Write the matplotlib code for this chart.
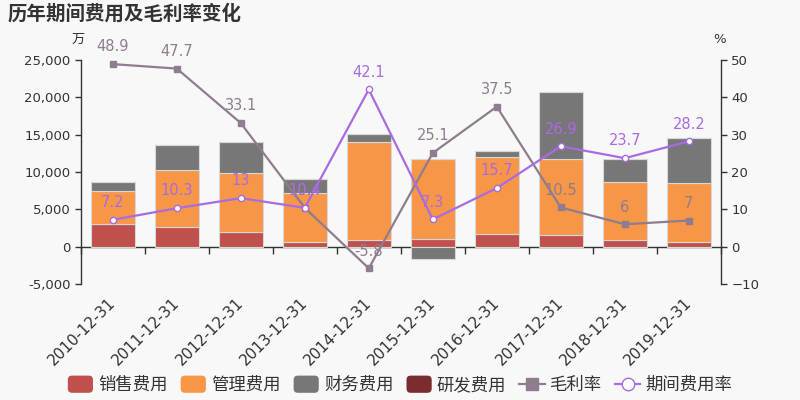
import matplotlib
matplotlib.use("Agg")
import matplotlib.pyplot as plt
import numpy as np
from matplotlib.patches import Patch, FancyBboxPatch
from matplotlib.lines import Line2D
from matplotlib.legend_handler import HandlerPatch
from matplotlib.ticker import FuncFormatter, FixedLocator

plt.rcParams['font.family'] = ['DejaVu Sans', 'Noto Sans CJK SC']

categories = ['2010-12-31', '2011-12-31', '2012-12-31', '2013-12-31', '2014-12-31',
              '2015-12-31', '2016-12-31', '2017-12-31', '2018-12-31', '2019-12-31']
sales_exp = [3000, 2700, 1900, 620, 880, 1070, 1740, 1550, 880, 620]
admin_exp = [4400, 7580, 7930, 6630, 13090, 10720, 10270, 10240, 7800, 7970]
finance_exp = [1200, 3340, 4140, 1870, 1120, -1600, 810, 8940, 3110, 5960]
rd_exp = [0, 0, 0, 0, 0, 0, 0, 0, 0, 0]
gross_margin = [48.9, 47.7, 33.1, 10.4, -5.8, 25.1, 37.5, 10.5, 6, 7]
period_rate = [7.2, 10.3, 13, 10.4, 42.1, 7.3, 15.7, 26.9, 23.7, 28.2]

series_names = ['销售费用', '管理费用', '财务费用', '研发费用']
series_colors = ['#c0504d', '#f79646', '#777777', '#7b2c2c']
gm_color = '#8e7d8e'
pr_color = '#a86be3'
bg = '#f8f8f8'
txt = '#333333'

fig = plt.figure(figsize=(8, 4), dpi=100, facecolor=bg)
ax = fig.add_axes([0.101, 0.29, 0.80, 0.56], facecolor=bg)
ax2 = ax.twinx()

x = np.arange(len(categories))
pos_base = np.zeros(len(x))
neg_base = np.zeros(len(x))
for vals, name, col in zip([sales_exp, admin_exp, finance_exp, rd_exp], series_names, series_colors):
    v = np.array(vals, dtype=float)
    bottom = np.where(v >= 0, pos_base, neg_base)
    ax.bar(x, v, width=0.69, bottom=bottom, color=col, edgecolor='#d8d8d8', linewidth=0.8, zorder=2)
    pos_base = pos_base + np.where(v >= 0, v, 0)
    neg_base = neg_base + np.where(v < 0, v, 0)

ax.set_xlim(-0.5, len(x) - 0.5)
ax.set_ylim(-5000, 25000)
ax2.set_ylim(-10, 50)
ax.set_yticks(np.arange(-5000, 25001, 5000))
ax2.set_yticks(np.arange(-10, 51, 10))
ax.yaxis.set_major_formatter(FuncFormatter(lambda v, p: f'{int(v):,}'))

ax2.plot(x, gross_margin, color=gm_color, lw=1.6, marker='s', ms=4.5, mfc=gm_color, mec=gm_color, zorder=3)
ax2.plot(x, period_rate, color=pr_color, lw=1.6, marker='o', ms=4.5, mfc='white', mec=pr_color, mew=1.0, zorder=4)
for xi, v in zip(x, gross_margin):
    ax2.annotate(f'{v:g}', (xi, v), xytext=(0, 7), textcoords='offset points', ha='center', va='bottom',
                 color=gm_color, fontsize=10.5, zorder=5)
for xi, v in zip(x, period_rate):
    ax2.annotate(f'{v:g}', (xi, v), xytext=(0, 7), textcoords='offset points', ha='center', va='bottom',
                 color=pr_color, fontsize=10.5, zorder=6)

for a in (ax, ax2):
    a.spines['top'].set_visible(False)
    a.spines['bottom'].set_visible(False)
    for s in ('left', 'right'):
        a.spines[s].set_color(txt)
        a.spines[s].set_linewidth(1.0)
ax.spines['right'].set_visible(False)
ax2.spines['left'].set_visible(False)
ax.tick_params(axis='y', colors=txt, labelsize=9.5, length=4, width=1)
ax2.tick_params(axis='y', colors=txt, labelsize=9.5, length=4, width=1)
ax.set_xticks(x)
ax.set_xticklabels(categories, rotation=45, ha='right', va='center', rotation_mode='anchor',
                   fontsize=11, color=txt)
ax.tick_params(axis='x', length=0, pad=12)

sec = ax.secondary_xaxis(1/6)
sec.xaxis.set_major_locator(FixedLocator(np.arange(-0.5, len(x), 1.0)))
sec.tick_params(axis='x', direction='out', length=5, width=1, colors=txt, labelbottom=False, labeltop=False)
sec.spines['bottom'].set_color(txt)
sec.spines['bottom'].set_linewidth(1.0)
for s in ('top', 'left', 'right'):
    sec.spines[s].set_visible(False)

fig.text(0.01, 0.965, '历年期间费用及毛利率变化', fontsize=14, fontweight='bold', color=txt,
         va='center', ha='left', family=['Noto Sans CJK SC'])
fig.text(0.098, 0.902, '万', fontsize=9.5, color=txt, ha='center', va='center', family=['Noto Sans CJK SC'])
fig.text(0.9, 0.902, '%', fontsize=9.5, color=txt, ha='center', va='center')


class RoundHandler(HandlerPatch):
    def create_artists(self, legend, orig_handle, xdescent, ydescent, width, height, fontsize, trans):
        p = FancyBboxPatch((-xdescent, -ydescent - 1), width, height + 2,
                           boxstyle='round,pad=0,rounding_size=3',
                           facecolor=orig_handle.get_facecolor(), edgecolor='none', transform=trans)
        return [p]


handles = [Patch(facecolor=c, label=n) for c, n in zip(series_colors, series_names)]
handles.append(Line2D([], [], color=gm_color, lw=1.6, marker='s', ms=9, mfc=gm_color, label='毛利率'))
handles.append(Line2D([], [], color=pr_color, lw=1.6, marker='o', ms=9, mfc='white', mec=pr_color, label='期间费用率'))
hmap = {h: RoundHandler() for h in handles[:4]}
leg = fig.legend(handles=handles, loc='center', bbox_to_anchor=(0.5, 0.037), ncol=6, frameon=False,
                 handler_map=hmap, handlelength=1.45, handleheight=0.9, handletextpad=0.3, columnspacing=0.75,
                 prop={'family': ['Noto Sans CJK SC'], 'size': 12.5})
for t in leg.get_texts():
    t.set_color(txt)

fig.savefig('out.png', dpi=100, facecolor=bg)
